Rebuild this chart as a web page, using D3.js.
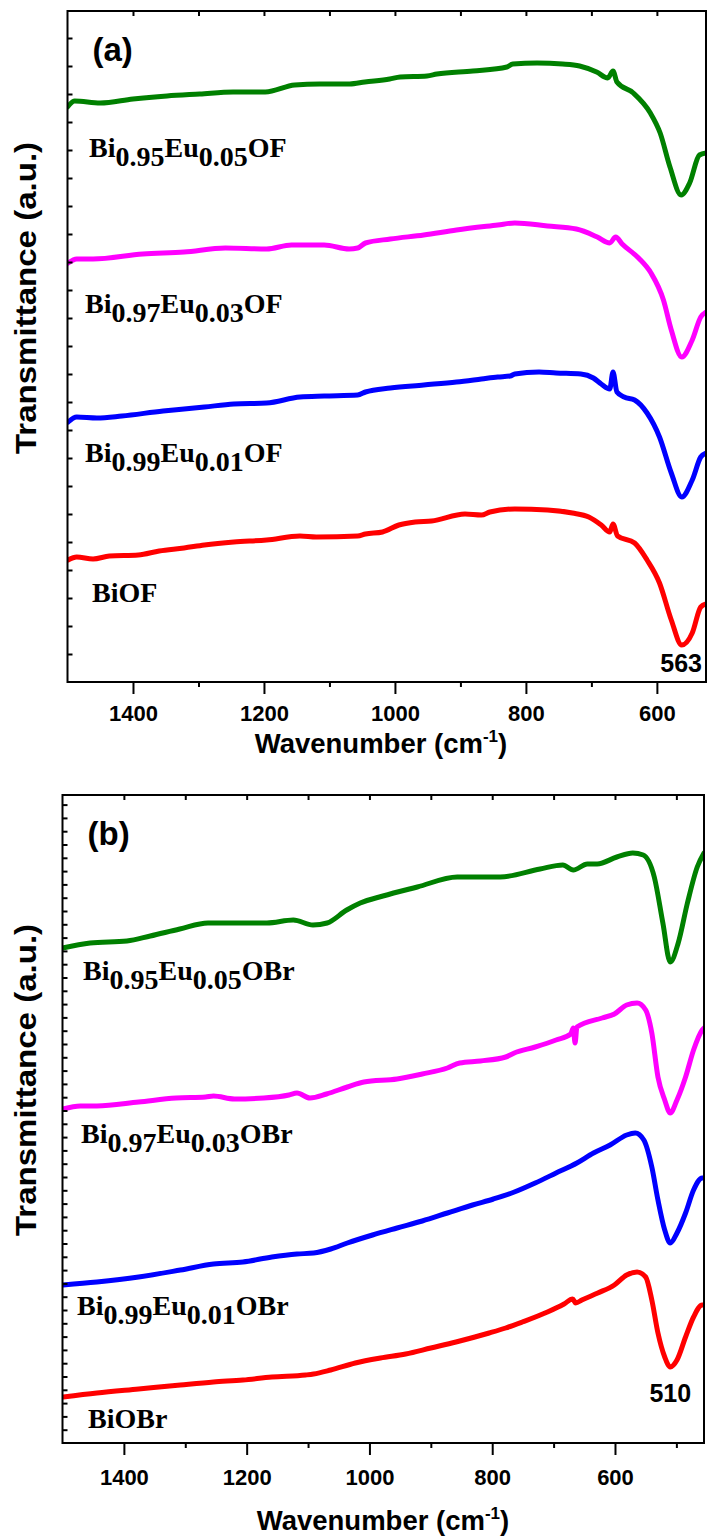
<!DOCTYPE html>
<html>
<head>
<meta charset="utf-8">
<script src="https://cdn.jsdelivr.net/npm/d3@7"></script>
<style>
body { margin: 0; background: #fff; }
.tick text { font-family: 'Liberation Sans', Arial, sans-serif; font-weight: bold; font-size: 22px; fill: #000; }
.tick line { stroke: #000; stroke-width: 2; }
</style>
</head>
<body>
<svg id="view" width="707" height="1540"></svg>
<script>
// series colours, top curve first
const seriesColors = ['#008000', '#ff00ff', '#0000ff', '#ff0000'];

// (a) BiOF family: [wavenumber, transmittance a.u.]
const of95 = [[1500,57.5],[1489,58.1],[1450,57.9],[1400,58.3],[1348,58.6],[1298,58.8],[1247,59.0],[1198,59.0],[1153,59.7],[1115,59.8],[1069,59.8],[1046,60.0],[1008,60.3],[992,60.5],[951,60.6],[936,60.8],[881,61.1],[829,61.5],[820,61.8],[783,61.9],[744,61.8],[718,61.6],[692,61.0],[675,60.4],[667,61.1],[661,60.0],[636,58.9],[610,56.9],[595,54.9],[580,51.5],[563,48.7],[550,49.9],[535,52.7],[525,52.9]];
const of97 = [[1499,41.9],[1486,42.3],[1461,42.3],[1385,42.8],[1322,43.0],[1259,43.4],[1196,43.3],[1158,43.7],[1108,43.7],[1070,43.3],[1057,43.4],[1045,43.9],[1007,44.3],[956,44.7],[906,45.2],[843,45.7],[817,45.9],[767,45.6],[723,45.3],[691,44.5],[672,43.9],[663,44.5],[653,43.8],[628,42.4],[609,40.9],[590,38.2],[578,35.2],[562,32.5],[546,34.2],[533,36.5],[525,37.0]];
const of99 = [[1499,26.0],[1486,26.5],[1455,26.4],[1417,26.6],[1354,27.1],[1322,27.3],[1291,27.5],[1246,27.8],[1196,27.9],[1145,28.5],[1108,28.6],[1057,28.7],[1045,29.0],[1007,29.4],[956,29.7],[906,30.0],[868,30.3],[843,30.5],[824,30.6],[817,30.8],[780,31.0],[754,30.9],[716,30.8],[697,30.4],[685,29.8],[672,29.3],[667,31.0],[661,29.0],[650,28.5],[634,28.2],[615,26.9],[596,24.5],[578,20.9],[562,18.5],[546,20.2],[533,22.5],[525,22.9]];
const ofPure = [[1499,12.2],[1486,12.5],[1461,12.3],[1436,12.6],[1392,12.7],[1360,13.1],[1322,13.4],[1291,13.7],[1246,14.0],[1196,14.2],[1145,14.6],[1120,14.5],[1057,14.6],[1045,14.8],[1019,15.0],[994,15.7],[969,16.0],[944,16.1],[893,16.8],[868,16.7],[855,17.0],[817,17.3],[767,17.2],[729,16.9],[704,16.5],[685,15.7],[672,15.0],[667,15.8],[660,14.6],[634,13.9],[615,12.2],[596,9.9],[578,6.2],[562,3.7],[546,4.9],[533,7.5],[525,7.8]];

// (b) BiOBr family
const br95 = [[1500,49.5],[1455,50.0],[1395,50.2],[1357,50.7],[1309,51.4],[1263,52.0],[1222,52.0],[1167,52.0],[1124,52.3],[1092,51.8],[1069,52.0],[1037,53.3],[1015,54.0],[978,54.7],[922,55.6],[857,56.6],[787,56.6],[722,57.4],[685,57.8],[668,57.3],[645,57.9],[629,57.9],[597,58.6],[571,59.0],[554,58.8],[536,56.6],[522,52.0],[510,48.1],[497,50.0],[482,54.0],[466,57.6],[455,59.0]];
const br97 = [[1499,33.4],[1471,33.7],[1444,33.7],[1376,34.1],[1315,34.5],[1267,34.6],[1254,34.7],[1220,34.4],[1172,34.5],[1131,34.8],[1118,35.0],[1097,34.5],[1070,34.9],[1036,35.6],[1009,36.1],[955,36.4],[914,36.9],[873,37.5],[853,38.0],[819,38.2],[778,38.6],[764,39.0],[730,39.6],[696,40.3],[672,40.9],[668,41.5],[665,40.0],[662,41.6],[621,42.5],[601,42.9],[581,43.8],[564,44.0],[550,43.3],[540,41.0],[530,36.6],[519,34.3],[510,33.0],[499,34.3],[485,36.6],[472,39.3],[458,41.3],[455,41.5]];
const br99 = [[1499,15.8],[1444,16.1],[1376,16.6],[1308,17.3],[1254,17.9],[1206,18.1],[1159,18.6],[1118,18.9],[1091,19.0],[1063,19.4],[1036,20.0],[995,20.8],[955,21.5],[914,22.2],[873,23.0],[832,23.8],[798,24.4],[764,25.1],[730,26.0],[696,27.0],[662,28.0],[635,29.0],[608,29.8],[581,30.8],[567,31.0],[553,30.3],[540,27.6],[530,24.3],[519,21.3],[510,20.0],[499,21.0],[485,23.0],[472,25.3],[458,26.5],[455,26.5]];
const brPure = [[1499,4.6],[1444,5.0],[1376,5.4],[1308,5.8],[1254,6.1],[1206,6.3],[1159,6.6],[1104,6.8],[1091,6.9],[1063,7.3],[1023,8.0],[982,8.5],[941,8.9],[900,9.5],[859,10.1],[805,11.0],[778,11.5],[751,12.1],[710,13.1],[683,13.9],[669,14.4],[664,14.0],[654,14.3],[628,15.0],[601,15.8],[581,16.8],[564,17.1],[550,16.6],[540,14.3],[530,11.0],[519,8.6],[510,7.6],[499,8.3],[485,10.6],[472,12.6],[458,13.8],[455,13.8]];

// sample names, split as normal / subscript / normal ...
const ofNames = [['Bi','0.95','Eu','0.05','OF'], ['Bi','0.97','Eu','0.03','OF'], ['Bi','0.99','Eu','0.01','OF'], ['BiOF']];
const brNames = [['Bi','0.95','Eu','0.05','OBr'], ['Bi','0.97','Eu','0.03','OBr'], ['Bi','0.99','Eu','0.01','OBr'], ['BiOBr']];

const majorTicks = [1400, 1200, 1000, 800, 600];
const minorTicks = [1300, 1100, 900, 700, 500];

function addName(g, parts, x, y) {
    var t = g.append('text')
        .attr('x', x)
        .attr('y', y)
        .style('font-family', "'Liberation Serif', 'Times New Roman', serif")
        .style('font-weight', 'bold')
        .style('font-size', '28px');
    parts.forEach(function(s, i) {
        t.append('tspan')
            .attr('dy', i === 0 ? 0 : (i % 2 === 1 ? 9 : -9))
            .text(s);
    });
}

function drawPanel(svg, p) {
    var x = d3.scaleLinear().domain(p.xDomain).range([p.left, p.right]);
    var y = d3.scaleLinear().domain(p.yDomain).range([p.bottom, p.top]);
    var g = svg.append('g');

    g.append('clipPath').attr('id', p.id)
        .append('rect')
        .attr('x', p.left).attr('y', p.top)
        .attr('width', p.right - p.left).attr('height', p.bottom - p.top);

    var line = d3.line()
        .x(function(d) { return x(d[0]); })
        .y(function(d) { return y(d[1]); })
        .curve(d3.curveMonotoneX);

    g.append('g')
        .attr('clip-path', 'url(#' + p.id + ')')
        .selectAll('path')
        .data(p.series)
        .enter()
        .append('path')
        .attr('d', line)
        .attr('fill', 'none')
        .attr('stroke', function(d, i) { return seriesColors[i]; })
        .attr('stroke-width', 5)
        .attr('stroke-linejoin', 'round')
        .attr('stroke-linecap', 'round');

    // bottom axis
    var bx = g.append('g').attr('transform', 'translate(0,' + p.bottom + ')');
    bx.call(d3.axisBottom(x).tickValues(majorTicks).tickFormat(d3.format('d'))
        .tickSize(12).tickPadding(p.tickPad).tickSizeOuter(0));
    bx.select('.domain').remove();
    var bm = g.append('g').attr('transform', 'translate(0,' + p.bottom + ')');
    bm.call(d3.axisBottom(x).tickValues(minorTicks.filter(function(v) { return v > p.xDomain[1]; })).tickSize(5).tickFormat(''));
    bm.select('.domain').remove();

    // top axis, short inward ticks
    var tx = g.append('g').attr('transform', 'translate(0,' + p.top + ')');
    tx.call(d3.axisTop(x).tickValues(d3.range(1400, p.xDomain[1], -100)).tickSize(-5).tickFormat(''));
    tx.select('.domain').remove();

    // left axis, short inward ticks
    var ly = g.append('g').attr('transform', 'translate(' + p.left + ',0)');
    ly.call(d3.axisLeft(y).tickValues(d3.range(p.yStep, p.yDomain[1], p.yStep)).tickSize(-5).tickFormat(''));
    ly.select('.domain').remove();
    ly.selectAll('line').attr('stroke-width', 1.5);

    g.append('rect')
        .attr('x', p.left).attr('y', p.top)
        .attr('width', p.right - p.left).attr('height', p.bottom - p.top)
        .attr('fill', 'none').attr('stroke', '#000').attr('stroke-width', 2);

    p.names.forEach(function(n, i) {
        addName(g, n, p.namePos[i][0], p.namePos[i][1]);
    });

    g.append('text')
        .attr('x', p.left + 25).attr('y', p.top + 50)
        .style('font-family', "'Liberation Sans', Arial, sans-serif")
        .style('font-weight', 'bold').style('font-size', '33px')
        .text(p.tag);

    g.append('text')
        .attr('x', x(p.peak)).attr('y', p.peakY)
        .attr('text-anchor', 'middle')
        .style('font-family', "'Liberation Sans', Arial, sans-serif")
        .style('font-weight', 'bold').style('font-size', '25px')
        .text(p.peak);

    var xt = g.append('text')
        .attr('x', p.titleX).attr('y', p.titleY)
        .attr('text-anchor', 'middle')
        .style('font-family', "'Liberation Sans', Arial, sans-serif")
        .style('font-weight', 'bold').style('font-size', '27.5px');
    xt.append('tspan').text('Wavenumber (cm');
    xt.append('tspan').attr('dy', -11).style('font-size', '17px').text('-1');
    xt.append('tspan').attr('dy', 11).text(')');

    g.append('text')
        .attr('transform', 'translate(36,' + p.yTitleMid + ') rotate(-90) scale(1.14,1)')
        .attr('text-anchor', 'middle')
        .style('font-family', "'Liberation Sans', Arial, sans-serif")
        .style('font-weight', 'bold').style('font-size', '29px')
        .text('Transmittance (a.u.)');
}

function init() {
    var svg = d3.select('svg#view');

    drawPanel(svg, {
        id: 'clipA', tag: '(a)',
        left: 67.5, right: 706, top: 11, bottom: 682,
        xDomain: [1500, 525], yDomain: [0, 67.1], yStep: 2.8,
        series: [of95, of97, of99, ofPure],
        names: ofNames,
        namePos: [[89, 157], [85, 313], [85, 462], [92, 602]],
        peak: 563, peakY: 672, tickPad: 11,
        titleX: 381, titleY: 753, yTitleMid: 298
    });

    drawPanel(svg, {
        id: 'clipB', tag: '(b)',
        left: 62.5, right: 704, top: 795, bottom: 1443,
        xDomain: [1500, 455], yDomain: [0, 64.8], yStep: 1.33,
        series: [br95, br97, br99, brPure],
        names: brNames,
        namePos: [[83, 980], [81, 1143], [77, 1315], [88, 1428]],
        peak: 510, peakY: 1402, tickPad: 14,
        titleX: 383, titleY: 1530, yTitleMid: 1080
    });
}

init();
</script>
</body>
</html>
